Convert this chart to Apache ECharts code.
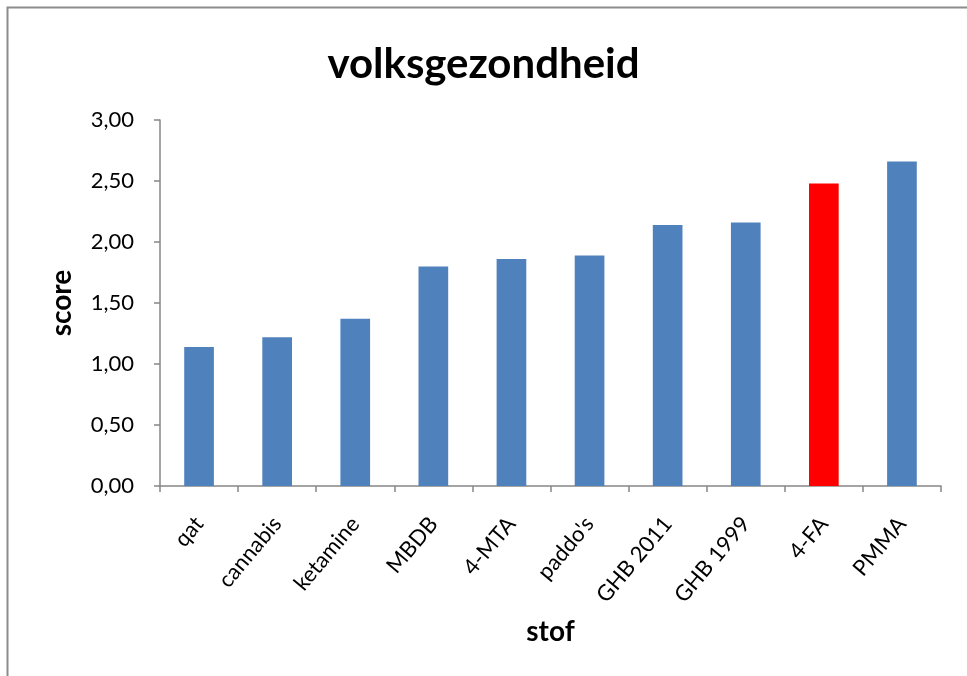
<!DOCTYPE html>
<html>
<head>
<meta charset="utf-8">
<script src="https://cdn.jsdelivr.net/npm/echarts@6/dist/echarts.min.js"></script>
<style>
  html, body { margin: 0; padding: 0; background: #fff; }
  #chart { width: 967px; height: 676px; }
</style>
</head>
<body>
<div id="chart"></div>
<script>
// categorieen en scores
var stoffen = ['qat', 'cannabis', 'ketamine', 'MBDB', '4-MTA', "paddo's", 'GHB 2011', 'GHB 1999', '4-FA', 'PMMA'];
var scores = [1.14, 1.22, 1.37, 1.80, 1.86, 1.89, 2.14, 2.16, 2.48, 2.66];
var highlight = '4-FA'; // rood gemarkeerd
var yTicks = [0, 0.5, 1, 1.5, 2, 2.5, 3];

var FONT = 'Lato';
var blauw = '#4F81BD';
var rood = '#FF0000';
var grijs = '#868686';

var chart = echarts.init(document.getElementById('chart'));

var barData = [];
for (var i = 0; i < stoffen.length; i++) {
  barData.push({
    value: scores[i],
    itemStyle: { color: stoffen[i] === highlight ? rood : blauw }
  });
}

var option = {
  backgroundColor: '#fff',
  animation: false,
  title: {
    text: 'volksgezondheid',
    left: 'center',
    top: 38,
    textStyle: { fontFamily: FONT, fontWeight: 'bold', fontSize: 42, color: '#000' }
  },
  graphic: [{
    // rand om de grafiek (rechts/onder buiten beeld)
    type: 'rect',
    shape: { x: 7.5, y: 7.5, width: 980, height: 700 },
    style: { fill: 'none', stroke: '#8c8c8c', lineWidth: 2 },
    silent: true
  }],
  grid: { left: 160, right: 26, top: 120, bottom: 190 },
  xAxis: {
    type: 'category',
    data: stoffen,
    name: 'stof',
    nameLocation: 'middle',
    nameGap: 132,
    nameTextStyle: { fontFamily: FONT, fontWeight: 'bold', fontSize: 28, color: '#000' },
    axisLine: { lineStyle: { color: grijs, width: 1.5 } },
    axisTick: { show: true, length: 6, lineStyle: { color: grijs, width: 1.5 } },
    axisLabel: { rotate: 50, margin: 34, interval: 0, fontFamily: FONT, fontSize: 22, color: '#000' }
  },
  yAxis: {
    type: 'value',
    min: 0,
    max: 3,
    interval: 0.5,
    name: 'score',
    nameLocation: 'middle',
    nameGap: 84,
    nameRotate: 90,
    nameTextStyle: { fontFamily: FONT, fontWeight: 'bold', fontSize: 28, color: '#000' },
    axisLine: { show: true, lineStyle: { color: grijs, width: 1.5 } },
    axisTick: { show: true, length: 6, lineStyle: { color: grijs, width: 1.5 } },
    splitLine: { show: false },
    axisLabel: {
      margin: 26,
      fontFamily: FONT, fontSize: 22, color: '#000',
      formatter: function (v) { return v.toFixed(2).replace('.', ','); }
    }
  },
  series: [{
    type: 'bar',
    data: barData,
    barWidth: '38%'
  }]
};

chart.setOption(option);
</script>
</body>
</html>
